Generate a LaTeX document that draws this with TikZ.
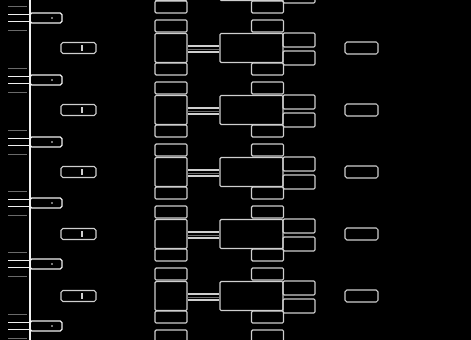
\documentclass[tikz,border=0pt]{standalone}
\usetikzlibrary{calc}
\definecolor{edgew}{HTML}{F0F0F0}
\definecolor{edgeg}{HTML}{CFCFCF}
\definecolor{edged}{HTML}{6A6A6A}
\tikzset{
  seedbox/.style={draw=edgew, line width=1.1pt, rounded corners=1.5pt, inner sep=0pt,
    minimum width=0.96cm, minimum height=0.3cm},
  pickbox/.style={draw=edgeg, line width=0.9pt, rounded corners=1.5pt, inner sep=0pt,
    minimum width=1.05cm, minimum height=0.33cm},
  slotbox/.style={draw=edgeg, line width=1pt, rounded corners=1pt, inner sep=0pt,
    minimum width=0.96cm, minimum height=0.36cm},
  matchbox/.style={draw=edgeg, line width=1pt, rounded corners=1pt, inner sep=0pt,
    minimum width=0.96cm, minimum height=0.87cm},
  finalbox/.style={draw=edgeg, line width=1pt, rounded corners=1pt, inner sep=0pt,
    minimum width=1.89cm, minimum height=0.87cm},
  pairbox/.style={draw=edgeg, line width=1pt, rounded corners=1pt, inner sep=0pt,
    minimum width=0.96cm, minimum height=0.42cm},
  prizebox/.style={draw=edgeg, line width=0.9pt, rounded corners=1.5pt, inner sep=0pt,
    minimum width=0.99cm, minimum height=0.36cm},
  wire/.style={draw=edgeg, line width=1pt},
  faint/.style={draw=edged, line width=0.5pt}
}
\begin{document}
\begin{tikzpicture}[x=0.03cm, y=-0.03cm]
\useasboundingbox (0,0) rectangle (471,340);
\fill[black] (0,0) rectangle (471,340);
\clip (0,0) rectangle (471,340);

% left rail
\coordinate (railtop) at (30,0);
\coordinate (railbot) at (30,340);
\draw[draw=edgew, line width=1.1pt] (railtop) -- (railbot);

% seeds
\foreach \y [count=\i] in {18,80,142,203,264,326}{
  \node[seedbox] (seed\i) at (46,\y) {};
  \coordinate (tab\i) at (8,\y);
  \draw[draw=edgew, line width=1.1pt] ($(tab\i)+(0,-3.5)$) -- ($(seed\i.west)+(0,-3.5)$);
  \draw[draw=edgew, line width=1.1pt] ($(tab\i)+(0,3.5)$) -- ($(seed\i.west)+(0,3.5)$);
  \draw[faint] ($(tab\i)+(0,-12)$) -- ($(seed\i.west)+(-2,-12)$);
  \draw[faint] ($(tab\i)+(0,12)$) -- ($(seed\i.west)+(-2,12)$);
  \fill[edgew] ($(seed\i.center)+(6,0)$) circle (0.9);
}

% picks and prizes
\foreach \c [count=\i] in {48,110,172,234,296}{
  \node[pickbox] (pick\i) at (78.5,\c) {};
  \draw[wire] ($(pick\i.center)+(3.5,-3)$) -- ($(pick\i.center)+(3.5,3)$);
  \node[prizebox] (prize\i) at (361.5,\c) {};
}

% bracket
\foreach \c [count=\k] in {-14,48,110,172,234,296}{
  \node[matchbox] (left\k) at (171,\c) {};
  \node[finalbox] (final\k) at (251.5,\c) {};
  \draw[wire] ($(left\k.east)+(0,-2)$) -- ($(final\k.west)+(0,-2)$);
  \draw[wire] ($(left\k.east)+(0,4)$) -- ($(final\k.west)+(0,4)$);
  \draw[faint] ($(left\k.east)+(0,1)$) -- ($(final\k.west)+(0,1)$);
  \node[pairbox] (upper\k) at (299,{\c-8}) {};
  \node[pairbox] (lower\k) at (299,{\c+10}) {};
  \node[slotbox] (ina\k) at (171,{\c+21}) {};
  \node[slotbox] (inb\k) at (171,{\c+40}) {};
  \node[slotbox] (outa\k) at (267.5,{\c+21}) {};
  \node[slotbox] (outb\k) at (267.5,{\c+40}) {};
}
\end{tikzpicture}
\end{document}
